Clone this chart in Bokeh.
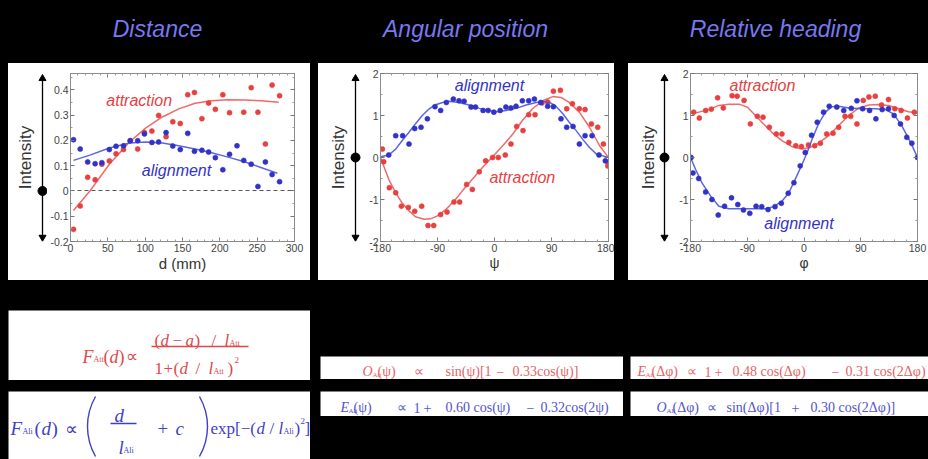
import math
from bokeh.plotting import figure
from bokeh.layouts import row, column
from bokeh.models import (Range1d, LinearAxis, Spacer, FixedTicker, CustomJSTickFormatter, Grid)
from bokeh.core.properties import value
from bokeh.embed import file_html
from bokeh.resources import INLINE

try:
    from bokeh.models import GlobalInlineStyleSheet
    GLOBAL_CSS = [GlobalInlineStyleSheet(css="html, body { background-color: #000000; }")]
except Exception:
    GLOBAL_CSS = []

# ---------------- data ----------------
titles = ["Distance", "Angular position", "Relative heading"]

# Distance panel
dist_att_d = [4, 13, 23, 33, 42, 52, 61, 71, 80, 90, 99, 109, 118, 128, 137, 147, 157, 166, 176, 185,
              194, 204, 213, 232, 242, 251, 261, 270, 280]
dist_att_v = [-0.152, -0.059, 0.054, 0.044, 0.106, 0.119, 0.147, 0.164, 0.199, 0.166, 0.231, 0.237,
              0.299, 0.215, 0.274, 0.267, 0.381, 0.390, 0.286, 0.348, 0.323, 0.381, 0.310, 0.312,
              0.409, 0.312, 0.186, 0.419, 0.377]
dist_ali_d = [4, 13, 23, 33, 42, 52, 61, 71, 80, 90, 99, 109, 118, 128, 137, 147, 157, 166, 176, 185,
              194, 204, 213, 223, 232, 242, 251, 261, 270, 280]
dist_ali_v = [0.203, 0.166, 0.115, 0.108, 0.112, 0.164, 0.177, 0.179, 0.199, 0.199, 0.226, 0.192,
              0.194, 0.231, 0.178, 0.164, 0.228, 0.157, 0.161, 0.154, 0.132, 0.084, 0.145, 0.179,
              0.121, 0.106, 0.018, 0.115, 0.065, 0.037]
dist_att_fit_d = [4, 26, 52, 79, 101, 123, 145, 167, 189, 211, 233, 255, 279]
dist_att_fit_v = [-0.077, 0.0, 0.106, 0.194, 0.25, 0.293, 0.325, 0.347, 0.357, 0.361, 0.36, 0.357, 0.351]
dist_ali_fit_d = [4, 26, 52, 79, 101, 123, 145, 167, 189, 211, 233, 255, 277]
dist_ali_fit_v = [0.121, 0.142, 0.17, 0.19, 0.194, 0.19, 0.179, 0.166, 0.151, 0.134, 0.116, 0.093, 0.07]
dist_zero = [0]
dist_xticks = [0, 50, 100, 150, 200, 250, 300]
dist_yticks = [-0.2, -0.1, 0, 0.1, 0.2, 0.3, 0.4]
dist_ylabels = ["-0.2", "-0.1", "0", "0.1", "0.2", "0.3", "0.4"]

# Angular position panel
ang_ali_x = [-167, -156, -145, -135, -126, -116, -106, -94, -85, -76, -65, -56, -48, -37, -30, -18, -10,
             -1, 9, 18, 26, 34, 44, 54, 63, 73, 84, 93, 105, 114, 124, 134, 143, 154, 165, 175]
ang_ali_y = [0.06, 0.52, 0.52, 0.32, 0.69, 0.72, 0.92, 1.21, 1.12, 1.31, 1.39, 1.35, 1.34, 1.20, 1.20,
             1.12, 1.12, 1.08, 1.12, 1.20, 1.18, 1.22, 1.35, 1.35, 1.39, 1.31, 1.22, 1.21, 0.92, 0.72,
             0.74, 0.32, 0.52, 0.52, 0.06, -0.08]
ang_att_x = [-177, -175, -166, -156, -147, -136, -126, -115, -105, -96, -85, -75, -64, -55, -44, -35,
             -24, -14, -3, 6, 17, 26, 35, 45, 54, 64, 75, 84, 93, 104, 114, 123, 134, 143, 153, 163,
             172, 179, 179]
ang_att_y = [0.20, -0.10, -0.72, -0.84, -1.16, -1.19, -1.28, -1.16, -1.62, -1.62, -1.36, -1.30, -1.06,
             -1.06, -0.64, -0.76, -0.34, -0.08, 0.00, 0.00, 0.06, 0.32, 0.74, 0.64, 1.02, 1.02, 1.30,
             1.32, 1.58, 1.60, 1.16, 1.28, 1.16, 1.14, 0.80, 0.72, 0.32, -0.12, -0.20]
ang_ali_fit_x = [-180, -167, -156, -146, -135, -125, -114, -103, -94, -82, -72, -56, -40, -24, -8, 5,
                 18, 34, 50, 66, 76, 87, 97, 108, 118, 129, 140, 150, 161, 180]
ang_ali_fit_y = [0.02, 0.06, 0.20, 0.40, 0.60, 0.80, 1.00, 1.16, 1.25, 1.31, 1.34, 1.31, 1.25, 1.17,
                 1.12, 1.09, 1.12, 1.17, 1.25, 1.31, 1.34, 1.31, 1.22, 1.04, 0.84, 0.64, 0.42, 0.24,
                 0.08, 0.00]
ang_att_fit_x = [-180, -167, -156, -146, -135, -125, -111, -101, -90, -77, -64, -51, -35, -19, -3, 13,
                 29, 44, 60, 76, 92, 105, 118, 134, 150, 166, 180]
ang_att_fit_y = [0.00, -0.52, -0.84, -1.08, -1.27, -1.41, -1.47, -1.46, -1.39, -1.24, -1.04, -0.80,
                 -0.52, -0.24, 0.02, 0.28, 0.56, 0.88, 1.16, 1.35, 1.45, 1.43, 1.31, 1.08, 0.72, 0.28,
                 0.00]

# Relative heading panel
head_att_x = [-175, -166, -156, -147, -137, -128, -114, -106, -95, -85, -74, -65, -55, -44, -35, -24,
              -13, -4, 7, 17, 26, 36, 46, 55, 65, 74, 84, 94, 103, 113, 123, 134, 144, 154, 164, 175]
head_att_y = [1.08, 0.94, 1.12, 1.15, 1.42, 1.18, 1.47, 1.46, 1.36, 0.80, 0.98, 0.96, 0.72, 0.56, 0.56,
              0.36, 0.28, 0.26, 0.30, 0.28, 0.34, 0.56, 0.58, 0.72, 0.98, 0.98, 0.80, 1.36, 1.44, 1.46,
              1.25, 1.38, 1.16, 1.12, 0.94, 1.08]
head_ali_x = [-179, -176, -167, -156, -146, -136, -126, -115, -105, -96, -86, -76, -67, -57, -46, -36,
              -25, -16, -6, 2, 12, 21, 31, 40, 52, 63, 75, 84, 93, 104, 114, 124, 134, 143, 153, 163,
              171, 180]
head_ali_y = [0.00, -0.37, -0.50, -0.82, -1.00, -1.37, -1.16, -0.96, -1.12, -1.25, -1.33, -1.16, -1.17,
              -1.24, -1.17, -1.09, -0.85, -0.60, -0.20, 0.12, 0.53, 0.84, 1.08, 1.22, 1.20, 1.12, 1.17,
              1.35, 1.16, 1.12, 0.92, 1.14, 1.16, 1.00, 0.80, 0.48, 0.34, 0.00]
head_att_fit_x = [-180, -167, -151, -135, -119, -103, -90, -77, -64, -51, -35, -19, -3, 10, 23, 39, 55,
                  71, 87, 103, 118, 134, 150, 166, 180]
head_att_fit_y = [1.06, 1.08, 1.14, 1.24, 1.27, 1.27, 1.20, 1.00, 0.80, 0.60, 0.40, 0.26, 0.20, 0.24,
                  0.34, 0.52, 0.76, 1.00, 1.18, 1.25, 1.26, 1.24, 1.16, 1.09, 1.06]
head_ali_fit_x = [-180, -172, -162, -148, -135, -119, -103, -82, -61, -48, -35, -24, -14, -3, 5, 13, 23,
                  34, 44, 55, 71, 92, 113, 129, 142, 155, 169, 180]
head_ali_fit_y = [0.00, -0.28, -0.60, -0.92, -1.16, -1.22, -1.22, -1.22, -1.22, -1.17, -1.04, -0.84,
                  -0.52, -0.16, 0.12, 0.44, 0.80, 1.08, 1.21, 1.22, 1.18, 1.16, 1.16, 1.14, 1.04, 0.76,
                  0.36, 0.00]
ang_xticks = [-180, -90, 0, 90, 180]
ang_xlabels = ["-180", "-90", "0", "90", "180"]
ang_yticks = [-2, -1, 0, 1, 2]
ang_ylabels = ["-2", "-1", "0", "1", "2"]

series_names = ["attraction", "alignment"]

# ---------------- style ----------------
RED = "#e8403f"
RED_LINE = "#ee5a5a"
BLUE = "#3232c8"
BLUE_LINE = "#4a55dd"
TITLE_C = "#7878f0"
FRAME_C = "#8c8c8c"
SANS = "Liberation Sans"
SERIF = "Liberation Serif"
PH = 217
EMPTY = CustomJSTickFormatter(code="return ''")
WHITE_BG = {"background-color": "#ffffff"}


def no_grid(fig):
    for g in fig.select(type=Grid):
        g.visible = False
    fig.xgrid.visible = False
    fig.ygrid.visible = False


def bare_figure(w, h, xr, yr, fill, **kw):
    f = figure(width=w, height=h, x_range=xr, y_range=yr, output_backend="svg",
               toolbar_location=None, x_axis_location=None, y_axis_location=None,
               background_fill_color=fill, border_fill_color=fill, **kw)
    f.outline_line_color = None
    no_grid(f)
    return f


def style_axis(ax, ticker, overrides=None, labels=True):
    ax.ticker = ticker
    ax.axis_line_color = FRAME_C
    ax.major_tick_in = 4
    ax.major_tick_out = 0
    ax.minor_tick_in = 2
    ax.minor_tick_out = 0
    ax.major_tick_line_color = "#777777"
    ax.minor_tick_line_color = "#999999"
    ax.major_label_text_font = SANS
    ax.major_label_text_color = "#444444"
    ax.major_label_text_font_size = "10.5px"
    if labels:
        ax.major_label_standoff = 2
        if overrides:
            ax.major_label_overrides = overrides
    else:
        ax.formatter = EMPTY
        ax.major_label_standoff = 0


def make_panel(main_w, side_w, xr, yr, xticker, yticker, xlabel, xlabel_size, mbl, mbr,
               arrow_x, label_x, xover=None, yover=None):
    p = figure(width=main_w, height=PH, x_range=xr, y_range=yr, output_backend="svg",
               toolbar_location=None, min_border_left=mbl, min_border_right=mbr,
               min_border_top=10, min_border_bottom=39,
               background_fill_color="white", border_fill_color="white")
    no_grid(p)
    p.outline_line_color = FRAME_C
    xa = p.xaxis[0]
    ya = p.yaxis[0]
    style_axis(xa, xticker, xover)
    style_axis(ya, yticker, yover)
    xa.axis_label = xlabel
    xa.axis_label_text_font = SANS
    xa.axis_label_text_font_style = "normal"
    xa.axis_label_text_font_size = xlabel_size
    xa.axis_label_text_color = "#333333"
    xa.axis_label_standoff = 0
    top = LinearAxis()
    style_axis(top, xticker, labels=False)
    p.add_layout(top, "above")
    right = LinearAxis()
    style_axis(right, yticker, labels=False)
    p.add_layout(right, "right")

    side = bare_figure(side_w, PH, Range1d(0, side_w), Range1d(yr.start, yr.end), "white",
                       min_border=0, min_border_left=0, min_border_right=0, min_border_top=10,
                       min_border_bottom=39)
    span = yr.end - yr.start
    y0 = yr.start + 0.025 * span
    y1 = yr.end - 0.03 * span
    side.segment(x0=[arrow_x], y0=[y0], x1=[arrow_x], y1=[y1], line_color="black", line_width=1.3)
    side.scatter([arrow_x, arrow_x], [y0, y1], marker="triangle", size=7, angle=[math.pi, 0],
                 color="black")
    side.scatter([arrow_x], [0], size=9, color="black")
    side.text(x=[label_x], y=[(yr.start + yr.end) / 2], text=["Intensity"], angle=math.pi / 2,
              text_font=value(SANS), text_font_size="17px", text_color="#333333",
              text_align="center", text_baseline="middle")
    return side, p


def add_series(p, xs, ys, fx, fy, color, lcolor):
    p.line(fx, fy, line_color=lcolor, line_width=1.5, line_alpha=0.9)
    p.scatter(xs, ys, size=5, marker="circle", fill_color=color, line_color=color, line_width=0.6)


def add_label(p, x, y, txt, color):
    p.text(x=[x], y=[y], text=[txt], text_font=value(SANS), text_font_style="italic",
           text_font_size="16px", text_color=color, text_align="center", text_baseline="middle")


# ---------------- header ----------------
header = bare_figure(928, 63, Range1d(0, 928), Range1d(63, 0), "black", min_border=0)
header.text(x=[157, 465, 775], y=[28, 28, 28], text=titles, text_font=value(SANS),
            text_font_style="italic", text_font_size="23px", text_color=TITLE_C,
            text_align="center", text_baseline="alphabetic")

# ---------------- panel 1: distance ----------------
s1, p1 = make_panel(263, 39, Range1d(0, 300), Range1d(-0.2, 0.465),
                    FixedTicker(ticks=dist_xticks, minor_ticks=list(range(0, 301, 10))),
                    FixedTicker(ticks=dist_yticks, minor_ticks=[-0.15, -0.05, 0.05, 0.15, 0.25, 0.35, 0.45]),
                    "d (mm)", "15px", 21, 16, 34, 17,
                    yover=dict(zip(dist_yticks, dist_ylabels)))
p1.hspan(y=dist_zero, line_color="#555555", line_dash="4 3", line_width=1)
add_series(p1, dist_att_d, dist_att_v, dist_att_fit_d, dist_att_fit_v, RED, RED_LINE)
add_series(p1, dist_ali_d, dist_ali_v, dist_ali_fit_d, dist_ali_fit_v, BLUE, BLUE_LINE)
add_label(p1, 92, 0.357, series_names[0], RED)
add_label(p1, 142, 0.08, series_names[1], BLUE)

ang_minor = list(range(-180, 181, 18))
y_minor = [-1.5, -0.5, 0.5, 1.5]

# ---------------- panel 2: angular position ----------------
s2, p2 = make_panel(252, 44, Range1d(-180, 180), Range1d(-2, 2),
                    FixedTicker(ticks=ang_xticks, minor_ticks=ang_minor),
                    FixedTicker(ticks=ang_yticks, minor_ticks=y_minor),
                    "ψ", "14px", 18, 6, 37, 20,
                    xover=dict(zip(ang_xticks, ang_xlabels)), yover=dict(zip(ang_yticks, ang_ylabels)))
add_series(p2, ang_att_x, ang_att_y, ang_att_fit_x, ang_att_fit_y, RED, RED_LINE)
add_series(p2, ang_ali_x, ang_ali_y, ang_ali_fit_x, ang_ali_fit_y, BLUE, BLUE_LINE)
add_label(p2, -8, 1.71, series_names[1], BLUE)
add_label(p2, 44, -0.48, series_names[0], RED)

# ---------------- panel 3: relative heading ----------------
s3, p3 = make_panel(256, 44, Range1d(-180, 180), Range1d(-2, 2),
                    FixedTicker(ticks=ang_xticks, minor_ticks=ang_minor),
                    FixedTicker(ticks=ang_yticks, minor_ticks=y_minor),
                    "φ", "14px", 18, 11, 36, 20,
                    xover=dict(zip(ang_xticks, ang_xlabels)), yover=dict(zip(ang_yticks, ang_ylabels)))
add_series(p3, head_att_x, head_att_y, head_att_fit_x, head_att_fit_y, RED, RED_LINE)
add_series(p3, head_ali_x, head_ali_y, head_ali_fit_x, head_ali_fit_y, BLUE, BLUE_LINE)
add_label(p3, -66, 1.71, series_names[0], RED)
add_label(p3, -8, -1.57, series_names[1], BLUE)


# ---------------- formula boxes ----------------
def formula_box(w, h, pieces, color, bars=(), parens=()):
    f = bare_figure(w, h, Range1d(0, w), Range1d(h, 0), "white", min_border=0)
    for txt, x, y, size, style in pieces:
        f.text(x=[x], y=[y], text=[txt], text_font=value(SERIF), text_font_size=f"{size}px",
               text_font_style=style, text_color=color, text_align="left",
               text_baseline="alphabetic")
    for x0, x1, y in bars:
        f.segment(x0=[x0], y0=[y], x1=[x1], y1=[y], line_color=color, line_width=1.6)
    for xc, yc, r, a0, a1 in parens:
        f.arc(x=[xc], y=[yc], radius=r, start_angle=a0, end_angle=a1, line_color=color,
              line_width=1.4)
    return f


FR = "#e0474c"
FB = "#3e3ec8"
FR2 = "#e46466"
FB2 = "#5454cc"
I, N = "italic", "normal"

boxA = formula_box(302, 70, [
    ("F", 74, 46, 18, I), ("Att", 85, 49, 8, N), ("(", 95, 46, 18, N), ("d", 101, 46, 18, I),
    (")", 110, 46, 18, N), ("∝", 117, 46, 17, N),
    ("(", 146, 30, 17, N), ("d", 152, 30, 17, I), ("−", 164, 30, 17, N), ("a", 177, 30, 17, I),
    (")", 186, 30, 17, N), ("/", 203, 30, 17, N), ("l", 216, 30, 17, I), ("Att", 221, 33, 8, N),
    ("1", 146, 58, 17, N), ("+", 155, 58, 17, N), ("(", 165, 58, 17, N), ("d", 171, 58, 17, I),
    ("/", 187, 58, 17, N), ("l", 200, 58, 17, I), ("Att", 205, 61, 8, N), (")", 219, 58, 17, N),
    ("2", 226, 49, 9, N),
], FR, bars=[(143, 240, 36)])

pr = 60.0
ph = math.asin(30.0 / pr)
boxB = formula_box(302, 68, [
    ("F", 2, 37, 19, I), ("Ali", 14, 40, 8, N), ("(", 26, 37, 19, N), ("d", 33, 37, 19, I),
    (")", 43, 37, 19, N), ("∝", 56, 37, 18, N),
    ("d", 106, 24, 19, I), ("l", 110, 56, 19, I), ("Ali", 115, 59, 8, N),
    ("+", 149, 37, 19, N), ("c", 167, 37, 19, I),
    ("exp[−(", 202, 37, 17, N), ("d", 248, 37, 17, I), ("/", 261, 37, 17, N), ("l", 270, 37, 17, I),
    ("Ali", 275, 40, 8, N), (")", 286, 37, 17, N), ("2", 292, 29, 9, N), ("]", 296, 37, 17, N),
], FB, bars=[(102, 128, 32)],
    parens=[(79 + pr, 35, pr, math.pi - ph, math.pi + ph), (199 - pr, 35, pr, -ph, ph)])

boxC = formula_box(303, 23, [
    ("O", 42, 15, 14, I), ("Att", 52, 18, 7, N), ("(ψ)", 57, 15, 14, N), ("∝", 93, 15, 14, N),
    ("sin(ψ)[1", 125, 15, 14, N), ("−", 176, 15, 14, N), ("0.33cos(ψ)]", 192, 15, 14, N),
], FR2)
boxD = formula_box(298, 23, [
    ("E", 7, 15, 14, I), ("Att", 15, 18, 7, N), ("(Δφ)", 21, 15, 14, N), ("∝", 56, 15, 14, N),
    ("1", 74, 15, 14, N), ("+", 84, 15, 14, N), ("0.48 cos(Δφ)", 102, 15, 14, N),
    ("−", 201, 15, 14, N), ("0.31 cos(2Δφ)", 215, 15, 14, N),
], FR2)
boxE = formula_box(303, 25, [
    ("E", 20, 16, 14, I), ("Ali", 28, 19, 7, N), ("(ψ)", 33, 16, 14, N), ("∝", 76, 16, 14, N),
    ("1", 93, 16, 14, N), ("+", 103, 16, 14, N), ("0.60 cos(ψ)", 125, 16, 14, N),
    ("−", 206, 16, 14, N), ("0.32cos(2ψ)", 220, 16, 14, N),
], FB2)
boxF = formula_box(298, 25, [
    ("O", 26, 16, 14, I), ("Ali", 36, 19, 7, N), ("(Δφ)", 42, 16, 14, N), ("∝", 76, 16, 14, N),
    ("sin(Δφ)[1", 96, 16, 14, N), ("+", 161, 16, 14, N), ("0.30 cos(2Δφ)]", 180, 16, 14, N),
], FB2)

# ---------------- layout ----------------
g1 = row(s1, p1, styles=WHITE_BG)
g2 = row(s2, p2, styles=WHITE_BG)
g3 = row(s3, p3, styles=WHITE_BG)
panels = row(Spacer(width=8, height=PH), g1, Spacer(width=8, height=PH), g2,
             Spacer(width=14, height=PH), g3)
left_col = column(boxA, Spacer(width=302, height=11), boxB)
right_col = column(Spacer(width=608, height=46), row(boxC, Spacer(width=7, height=23), boxD),
                   Spacer(width=608, height=12), row(boxE, Spacer(width=7, height=25), boxF))
bottom = row(Spacer(width=8, height=149), left_col, Spacer(width=10, height=149), right_col)
page = column(header, panels, Spacer(width=928, height=30), bottom,
              styles={"background-color": "#000000"}, stylesheets=GLOBAL_CSS)

open("out.html", "w").write(file_html(page, INLINE))
